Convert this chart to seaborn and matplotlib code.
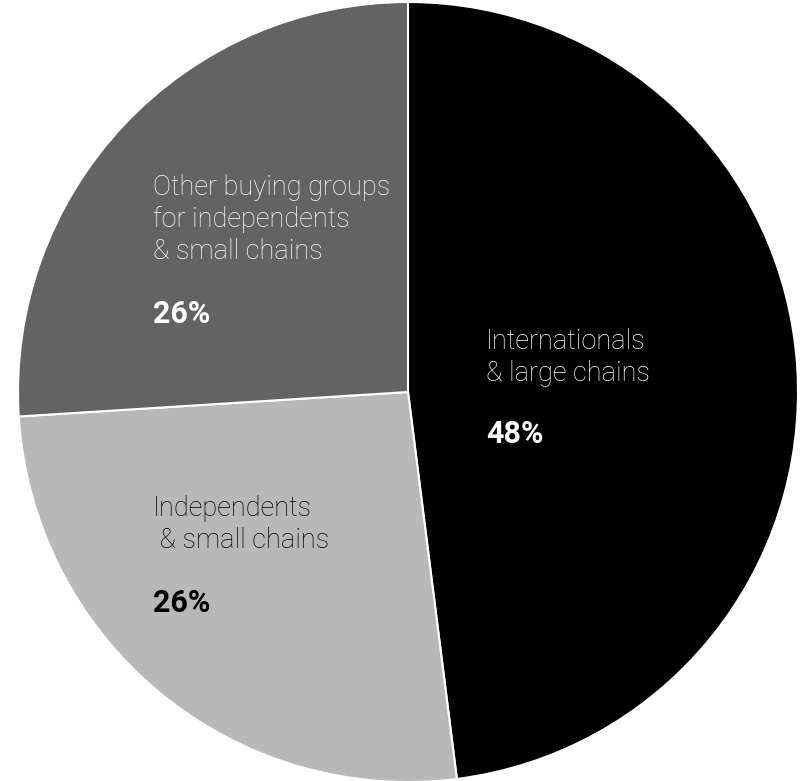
import matplotlib
matplotlib.use("Agg")
import matplotlib.pyplot as plt
import seaborn as sns

labels = ["Internationals\n& large chains", "Independents\n & small chains",
          "Other buying groups\nfor independents\n& small chains"]
values = [48, 26, 26]
pct_labels = ["48%", "26%", "26%"]
colors = ["#000000", "#b8b8b8", "#636363"]
text_colors = ["#ffffff", "#000000", "#ffffff"]

sns.set_theme(style="white")
plt.rcParams['font.family'] = ['Roboto', 'DejaVu Sans']

W, H = 800, 781
fig = plt.figure(figsize=(W / 100, H / 100), dpi=100)
cx, cy, r = 408, 392, 390
ax = fig.add_axes([(cx - r) / W, (H - cy - r) / H, 2 * r / W, 2 * r / H])
ax.pie(values, colors=colors, startangle=90, counterclock=False,
       wedgeprops=dict(edgecolor="white", linewidth=1.5), radius=1)
ax.set_xlim(-1, 1)
ax.set_ylim(-1, 1)
ax.set_aspect("equal")
ax.axis("off")

# label anchor positions in pixels (left x, baseline of first line, baseline of pct)
anchors = [(486, 349, 443), (153, 516, 612), (153, 195, 323)]
line_step = 32

def to_data(px, py):
    return (px - cx) / r, (cy - py) / r

for lab, pct, tc, (px, py, ppy) in zip(labels, pct_labels, text_colors, anchors):
    for i, line in enumerate(lab.split("\n")):
        x, y = to_data(px, py + i * line_step)
        ax.text(x, y, line, color=tc, fontsize=19.5, fontweight="light",
                ha="left", va="baseline")
    x2, y2 = to_data(px, ppy)
    ax.text(x2, y2, pct, color=tc, fontsize=22, fontweight="bold",
            ha="left", va="baseline")

fig.savefig("out.png", dpi=100, facecolor="white")
